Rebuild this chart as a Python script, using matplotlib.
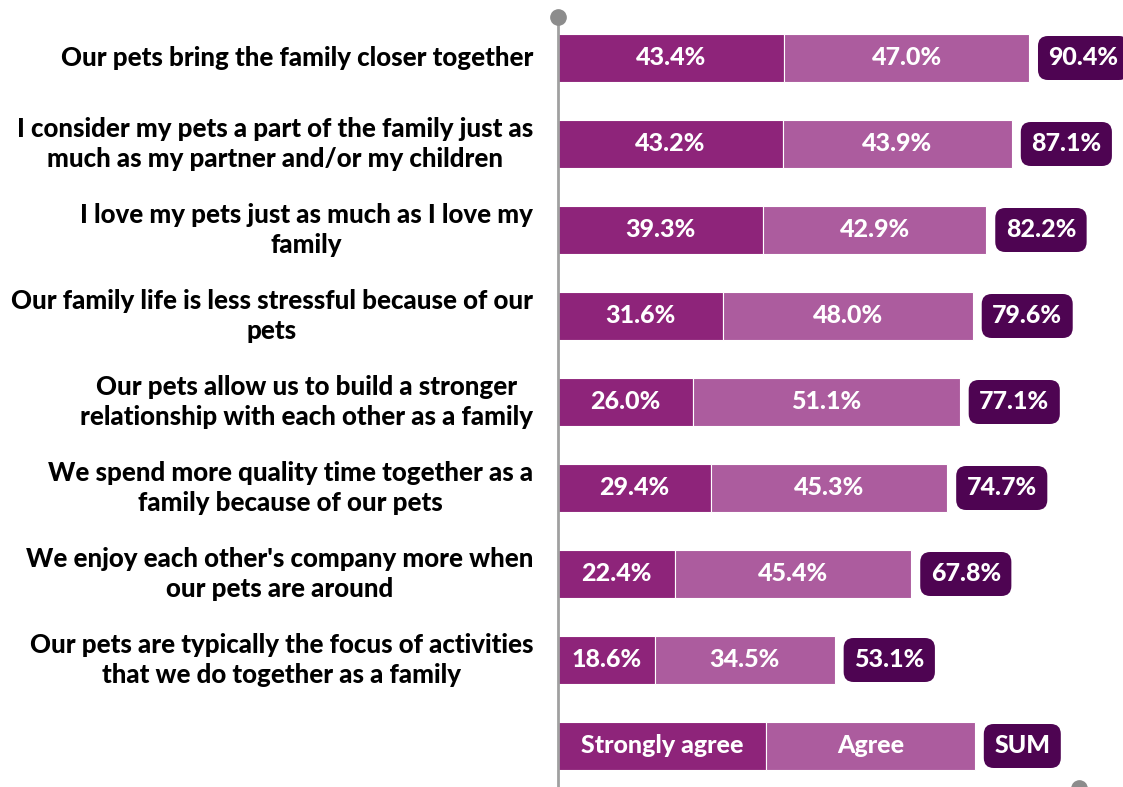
import matplotlib.pyplot as plt

plt.rcParams['font.family'] = ['Lato', 'DejaVu Sans']

statements = [
    'Our pets bring the family closer together',
    'I consider my pets a part of the family just as\nmuch as my partner and/or my children',
    'I love my pets just as much as I love my\nfamily',
    'Our family life is less stressful because of our\npets',
    'Our pets allow us to build a stronger\nrelationship with each other as a family',
    'We spend more quality time together as a\nfamily because of our pets',
    "We enjoy each other's company more when\nour pets are around",
    'Our pets are typically the focus of activities\nthat we do together as a family',
]
strongly_agree = [43.4, 43.2, 39.3, 31.6, 26.0, 29.4, 22.4, 18.6]
agree = [47.0, 43.9, 42.9, 48.0, 51.1, 45.3, 45.4, 34.5]
totals = [90.4, 87.1, 82.2, 79.6, 77.1, 74.7, 67.8, 53.1]

# legend row drawn as a bar of its own
legend_labels = ['Strongly agree', 'Agree', 'SUM']
legend_widths = [40, 40]

c_strong = '#8E247A'
c_agree = '#AC5C9E'
c_sum = '#4E0452'

W, H = 1123, 787
fig = plt.figure(figsize=(W / 100, H / 100), dpi=100)
px_per_unit = 5.21
x0 = 558
ax = fig.add_axes([x0 / W, 0, 1 - x0 / W, 1])
ax.set_xlim(0, (W - x0) / px_per_unit)
row_px = 86.0
first_px = 58.0
ax.set_ylim((H - first_px) / row_px, -first_px / row_px)

bar_h = 0.55
fs = 18
wt = 'black'
gap = 9 / px_per_unit


def sum_box(x, y, txt):
    pad = 0.42
    off = (pad * fs * 100 / 72) / px_per_unit
    ax.text(x + gap + off, y, txt, ha='left', va='center', color='white',
            fontsize=fs, fontweight=wt,
            bbox=dict(boxstyle='round,pad=%.2f,rounding_size=0.4' % pad,
                      fc=c_sum, ec='none'))


for i in range(len(statements)):
    s, a, t = strongly_agree[i], agree[i], totals[i]
    ax.barh(i, s, height=bar_h, color=c_strong, edgecolor='white', linewidth=0.8)
    ax.barh(i, a, left=s, height=bar_h, color=c_agree, edgecolor='white', linewidth=0.8)
    ax.text(s / 2, i, '%.1f%%' % s, ha='center', va='center', color='white',
            fontsize=fs, fontweight=wt)
    ax.text(s + a / 2, i, '%.1f%%' % a, ha='center', va='center', color='white',
            fontsize=fs, fontweight=wt)
    sum_box(s + a, i, '%.1f%%' % t)
    ax.text(-25 / px_per_unit, i, statements[i], ha='right', va='center',
            multialignment='center', fontsize=18.6, fontweight=wt,
            color='black', linespacing=1.3, clip_on=False)

# legend row
ly = len(statements)
ax.barh(ly, legend_widths[0], height=bar_h, color=c_strong, edgecolor='white', linewidth=0.8)
ax.barh(ly, legend_widths[1], left=legend_widths[0], height=bar_h, color=c_agree,
        edgecolor='white', linewidth=0.8)
ax.text(legend_widths[0] / 2, ly, legend_labels[0], ha='center', va='center',
        color='white', fontsize=fs, fontweight=wt)
ax.text(legend_widths[0] + legend_widths[1] / 2, ly, legend_labels[1], ha='center',
        va='center', color='white', fontsize=fs, fontweight=wt)
sum_box(sum(legend_widths), ly, legend_labels[2])

# axis line with round ends
ytop = (17 - first_px) / row_px
ybot = (H - first_px) / row_px
ax.plot([0, 0], [ytop, ybot + 0.1], color='#A0A0A0', lw=2, clip_on=False, zorder=1)
ax.plot([0], [ytop], 'o', ms=11, color='#8C8C8C', clip_on=False)
ax.plot([100], [(788 - first_px) / row_px], 'o', ms=11, color='#8C8C8C', clip_on=False)

ax.axis('off')
fig.savefig('out.png', dpi=100)
